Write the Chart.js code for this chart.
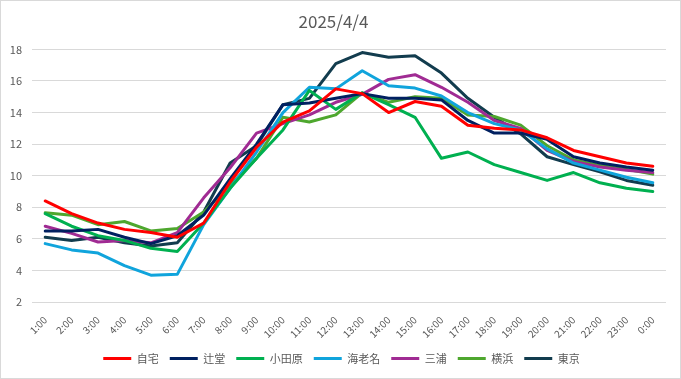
<!DOCTYPE html>
<html>
<head>
<meta charset="utf-8">
<script src="https://cdn.jsdelivr.net/npm/chart.js@4.4.1/dist/chart.umd.min.js"></script>
<style>
  html, body { margin: 0; padding: 0; background: #fff; }
  #wrap { position: relative; width: 681px; height: 379px; box-sizing: border-box; border: 1px solid #d9d9d9; }
  canvas { display: block; }
</style>
</head>
<body>
<div id="wrap"><canvas id="c" width="679" height="377"></canvas></div>
<script>
const title = "2025/4/4";
const hours = ["1:00","2:00","3:00","4:00","5:00","6:00","7:00","8:00","9:00","10:00","11:00","12:00",
               "13:00","14:00","15:00","16:00","17:00","18:00","19:00","20:00","21:00","22:00","23:00","0:00"];
const seriesNames = ["自宅","辻堂","小田原","海老名","三浦","横浜","東京"];
const jitaku   = [8.4, 7.6, 7.0, 6.6, 6.4, 6.1, 7.0, 9.6, 11.8, 13.4, 14.1, 15.5, 15.2, 14.0, 14.7, 14.4, 13.2, 13.0, 12.9, 12.4, 11.6, 11.2, 10.8, 10.6];
const tsujido  = [6.5, 6.5, 6.6, 6.1, 5.7, 6.2, 7.5, 9.8, 12.0, 14.5, 14.6, 14.9, 15.2, 14.9, 14.9, 14.8, 13.5, 12.7, 12.7, 12.3, 11.2, 10.8, 10.55, 10.35];
const odawara  = [7.6, 6.8, 6.2, 5.9, 5.4, 5.2, 7.0, 9.2, 11.1, 12.9, 15.4, 14.2, 15.25, 14.5, 13.7, 11.1, 11.5, 10.7, 10.2, 9.7, 10.2, 9.55, 9.2, 9.0];
const ebina    = [5.7, 5.3, 5.1, 4.3, 3.7, 3.75, 6.9, 9.2, 11.5, 14.0, 15.6, 15.5, 16.65, 15.7, 15.55, 15.05, 14.0, 13.3, 12.9, 11.7, 10.8, 10.35, 9.9, 9.55];
const miura    = [6.8, 6.35, 5.8, 5.9, 5.75, 6.4, 8.6, 10.5, 12.7, 13.3, 13.85, 14.65, 15.15, 16.1, 16.4, 15.6, 14.65, 13.5, 13.0, 11.6, 10.9, 10.55, 10.35, 10.2];
const yokohama = [7.65, 7.5, 6.9, 7.1, 6.5, 6.65, 7.7, 9.4, 11.1, 13.7, 13.4, 13.85, 15.25, 14.65, 15.0, 14.9, 13.85, 13.75, 13.2, 11.9, 11.0, 10.65, 10.4, 10.1];
const tokyo    = [6.1, 5.9, 6.1, 5.75, 5.55, 5.75, 7.7, 10.8, 11.9, 14.5, 14.9, 17.1, 17.8, 17.5, 17.6, 16.5, 14.9, 13.7, 12.65, 11.2, 10.7, 10.25, 9.7, 9.4];
const yTicks = [2, 4, 6, 8, 10, 12, 14, 16, 18];

const seriesValues = [jitaku, tsujido, odawara, ebina, miura, yokohama, tokyo];
const colors = ["#ff0000", "#002060", "#00b050", "#10a4dc", "#a02b93", "#4ea72e", "#123c4e"];

const FONT = "'Noto Sans CJK JP', 'Noto Sans', sans-serif";
const TXT = "#595959";

const shiftLegend = {
  id: "shiftLegend",
  afterLayout(chart) {
    const lg = chart.legend;
    if (lg) { lg.left += 8; lg.right += 8; }
  }
};

new Chart(document.getElementById("c"), {
  type: "line",
  data: {
    labels: hours,
    datasets: seriesNames.map((n, i) => ({
      label: n,
      data: seriesValues[i],
      borderColor: colors[i],
      backgroundColor: colors[i],
      borderWidth: 3,
      pointRadius: 0,
      pointHoverRadius: 0,
      tension: 0,
      borderJoinStyle: "round",
      borderCapStyle: "round",
      fill: false
    }))
  },
  plugins: [shiftLegend],
  options: {
    responsive: false,
    animation: false,
    devicePixelRatio: 1,
    layout: { padding: { left: 0, right: 14, top: 0, bottom: 4 } },
    plugins: {
      title: {
        display: true,
        text: title,
        color: TXT,
        font: { family: FONT, size: 17, weight: "normal" },
        padding: { top: 10, bottom: 18 }
      },
      legend: {
        position: "bottom",
        labels: {
          color: TXT,
          font: { family: FONT, size: 11 },
          usePointStyle: true,
          pointStyle: "line",
          pointStyleWidth: 28,
          padding: 11
        }
      },
      tooltip: { enabled: false }
    },
    scales: {
      x: {
        offset: true,
        grid: { display: false },
        border: { display: false },
        ticks: {
          color: TXT,
          font: { family: FONT, size: 10 },
          minRotation: 45,
          maxRotation: 45,
          autoSkip: false,
          padding: 4
        },
        afterFit: s => { s.height = 40; }
      },
      y: {
        min: 2,
        max: 18,
        afterBuildTicks: s => { s.ticks = yTicks.map(v => ({ value: v })); },
        grid: { color: "#d9d9d9", lineWidth: 1, drawTicks: false },
        border: { display: false },
        ticks: {
          color: TXT,
          font: { family: FONT, size: 11 },
          padding: 10
        },
        afterFit: s => { s.width = 31; }
      }
    }
  }
});
</script>
</body>
</html>
